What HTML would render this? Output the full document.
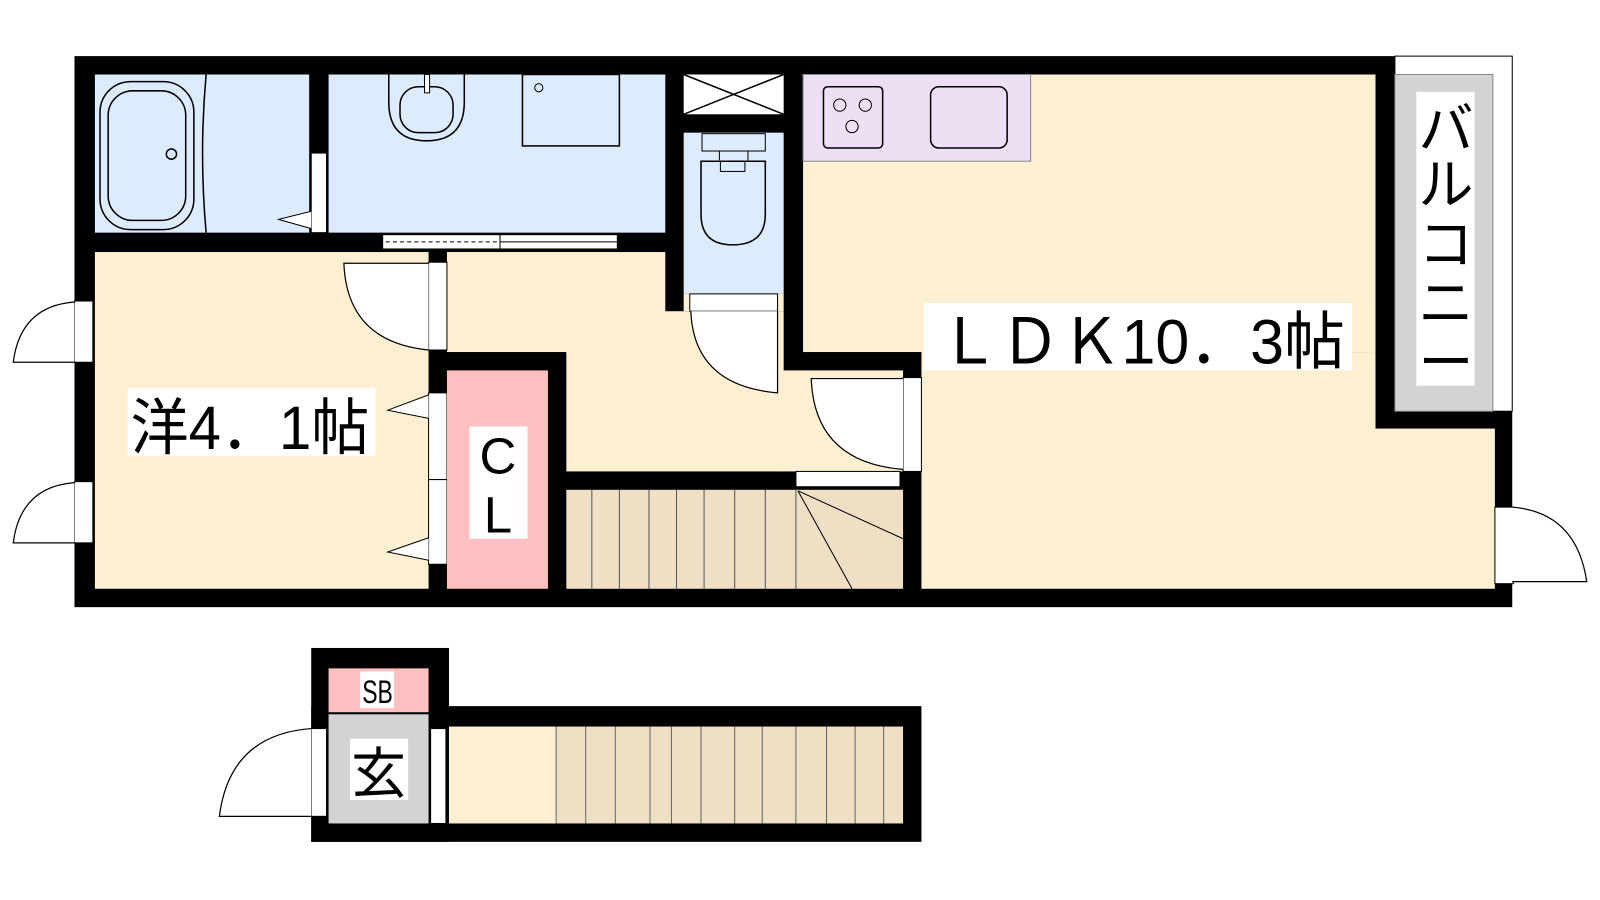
<!DOCTYPE html>
<html><head><meta charset="utf-8"><style>
html,body{margin:0;padding:0;background:#fff;width:1600px;height:900px;overflow:hidden}
svg{display:block}
text{font-family:"Liberation Sans","Noto Sans CJK JP",sans-serif;fill:#000}
</style></head><body>
<svg width="1600" height="900" viewBox="0 0 1568 882" xmlns="http://www.w3.org/2000/svg">
<rect x="73" y="55" width="1409" height="540" fill="#000"/>
<rect x="1367" y="55" width="115" height="348" fill="#fff" stroke="#000" stroke-width="1"/>
<rect x="1367" y="73" width="96" height="330" fill="#d3d3d3" stroke="#888" stroke-width="1"/>
<rect x="1388" y="90" width="57" height="288" fill="#fff"/>
<!-- bath -->
<rect x="93" y="73" width="210" height="155" fill="#dcebfd"/>
<rect x="98" y="80" width="92" height="145" rx="30" fill="none" stroke="#000" stroke-width="1.5"/>
<rect x="106" y="89" width="76" height="127" rx="24" fill="none" stroke="#000" stroke-width="1.5"/>
<circle cx="168" cy="151" r="5" fill="none" stroke="#000" stroke-width="1.5"/>
<path d="M202 73 Q195 150 202 228" fill="none" stroke="#000" stroke-width="1.5"/>
<rect x="305" y="150" width="15" height="78" fill="#fff" stroke="#000"/>
<path d="M305 207 L273 215 L305 224" fill="#fff" stroke="#000"/>
<!-- washroom -->
<rect x="322" y="73" width="330" height="155" fill="#dcebfd"/>
<path d="M381 73 V100 Q381 138 418 138 Q455 138 455 100 V73" fill="none" stroke="#000" stroke-width="1.5"/>
<rect x="392" y="85" width="52" height="45" rx="18" fill="none" stroke="#000" stroke-width="1.5"/>
<rect x="416" y="73" width="5" height="18" fill="#fff" stroke="#000"/>
<rect x="512" y="73" width="95" height="70" fill="none" stroke="#000" stroke-width="1.5"/>
<circle cx="528" cy="86" r="4" fill="none" stroke="#000"/>
<rect x="375" y="230" width="115" height="14" fill="#fff" stroke="#000"/>
<line x1="378" y1="237" x2="488" y2="237" stroke="#000" stroke-dasharray="4,3"/>
<rect x="490" y="230" width="115" height="14" fill="#fff" stroke="#000"/>
<line x1="490" y1="237" x2="605" y2="237" stroke="#000"/>
<!-- X box -->
<rect x="670" y="73" width="98" height="39" fill="#fff"/>
<path d="M670 73 L768 112 M768 73 L670 112" stroke="#000" stroke-width="1.5"/>
<!-- toilet -->
<rect x="670" y="130" width="98" height="158" fill="#dcebfd"/>
<rect x="688" y="131" width="62" height="17" fill="none" stroke="#000"/>
<path d="M705 148 v9 M733 148 v9" stroke="#000"/>
<path d="M687 158 H750 V210 Q750 240 718 240 Q687 240 687 210 Z" fill="none" stroke="#000" stroke-width="1.5"/>
<rect x="706" y="158" width="24" height="10" fill="none" stroke="#000"/>
<!-- kitchen + LDK -->
<rect x="787" y="73" width="561" height="272" fill="#fdf0d2"/>
<rect x="903" y="345" width="445" height="232" fill="#fdf0d2"/>
<rect x="1348" y="420" width="117" height="157" fill="#fdf0d2"/>
<rect x="787" y="73" width="223" height="85" fill="#ede0f5" stroke="#888"/>
<rect x="807" y="85" width="58" height="60" rx="4" fill="none" stroke="#000" stroke-width="1.5"/>
<circle cx="823" cy="103" r="6" fill="none" stroke="#000"/><circle cx="848" cy="103" r="6" fill="none" stroke="#000"/><circle cx="835" cy="124" r="6" fill="none" stroke="#000"/>
<rect x="912" y="85" width="75" height="60" rx="8" fill="none" stroke="#000" stroke-width="1.5"/>
<!-- western room -->
<rect x="93" y="247" width="327" height="330" fill="#fdf0d2"/>
<!-- hallway -->
<rect x="438" y="247" width="214" height="98" fill="#fdf0d2"/>
<rect x="555" y="305" width="213" height="157" fill="#fdf0d2"/>
<rect x="767" y="363" width="118" height="99" fill="#fdf0d2"/>
<rect x="670" y="288" width="98" height="17" fill="#fdf0d2"/>
<!-- doors -->
<rect x="420" y="257" width="18" height="86" fill="#fff" stroke="#000"/>
<path d="M420 258 H337 Q340 335 420 343" fill="#fff" stroke="#000" stroke-width="1.2"/>
<rect x="676" y="288" width="86" height="17" fill="#fff" stroke="#000"/>
<path d="M677 305 Q680 378 762 385 V305" fill="#fff" stroke="#000" stroke-width="1.2"/>
<rect x="885" y="370" width="18" height="92" fill="#fff" stroke="#000"/>
<path d="M885 371 H795 Q798 453 885 460" fill="#fff" stroke="#000" stroke-width="1.2"/>
<rect x="420" y="385" width="18" height="85" fill="#fff" stroke="#000"/>
<rect x="420" y="470" width="18" height="83" fill="#fff" stroke="#000"/>
<path d="M420 387 L380 402 L420 410" fill="#fff" stroke="#000"/>
<path d="M420 527 L380 541 L420 549" fill="#fff" stroke="#000"/>
<!-- CL -->
<rect x="438" y="363" width="99" height="214" fill="#fdbfbf"/>
<rect x="460" y="418" width="57" height="110" fill="#fff"/>
<text x="488" y="464" font-size="50" text-anchor="middle">C</text>
<text x="488" y="522" font-size="50" text-anchor="middle">L</text>
<!-- stairs -->
<rect x="555" y="480" width="330" height="97" fill="#eedfc5"/>
<g stroke="#555" stroke-width="1">
<line x1="580" y1="480" x2="580" y2="577"/><line x1="607" y1="480" x2="607" y2="577"/><line x1="636" y1="480" x2="636" y2="577"/><line x1="663" y1="480" x2="663" y2="577"/><line x1="690" y1="480" x2="690" y2="577"/><line x1="720" y1="480" x2="720" y2="577"/><line x1="750" y1="480" x2="750" y2="577"/><line x1="780" y1="480" x2="780" y2="577"/>
</g>
<path d="M782 481 L835 577 M782 481 L885 528" stroke="#000"/>
<rect x="780" y="462" width="102" height="15" fill="#fff" stroke="#000"/>
<!-- outside doors -->
<rect x="73" y="295" width="18" height="60" fill="#fff" stroke="#000"/>
<path d="M73 296 Q20 300 13 355 H73" fill="#fff" stroke="#000" stroke-width="1.2"/>
<rect x="73" y="472" width="18" height="60" fill="#fff" stroke="#000"/>
<path d="M73 473 Q20 477 13 532 H73" fill="#fff" stroke="#000" stroke-width="1.2"/>
<rect x="1465" y="497" width="18" height="75" fill="#fff" stroke="#000"/>
<path d="M1482 497 Q1545 502 1555 570 H1482" fill="#fff" stroke="#000" stroke-width="1.2"/>
<!-- labels -->
<rect x="125" y="380" width="243" height="67" fill="#fff"/>
<text x="128" y="440" font-size="60" textLength="234" lengthAdjust="spacingAndGlyphs">洋4．1帖</text>
<rect x="905" y="297" width="420" height="66" fill="#fff"/>
<text x="920" y="356" font-size="62" textLength="398" lengthAdjust="spacingAndGlyphs">ＬＤＫ10．3帖</text>
<text font-size="54" x="1417" y="145" text-anchor="middle">バ</text>
<text font-size="54" x="1417" y="200" text-anchor="middle">ル</text>
<text font-size="54" x="1417" y="258" text-anchor="middle">コ</text>
<text font-size="54" x="1417" y="316" text-anchor="middle">ニ</text>
<text font-size="54" x="1417" y="374" text-anchor="middle">ー</text>
<!-- bottom entry -->
<rect x="305" y="635" width="135" height="190" fill="#000"/>
<rect x="305" y="692" width="598" height="133" fill="#000"/>
<rect x="322" y="655" width="98" height="43" fill="#fdbfbf"/>
<rect x="353" y="658" width="33" height="36" fill="#fff"/>
<text x="355" y="689" font-size="32" textLength="30" lengthAdjust="spacingAndGlyphs">SB</text>
<rect x="322" y="700" width="98" height="107" fill="#d3d3d3"/>
<rect x="343" y="724" width="57" height="60" fill="#fff"/>
<text x="371" y="777" font-size="54" text-anchor="middle">玄</text>
<rect x="305" y="714" width="15" height="86" fill="#fff" stroke="#000"/>
<path d="M305 714 Q225 720 215 800 H305" fill="#fff" stroke="#000" stroke-width="1.2"/>
<rect x="422" y="714" width="15" height="93" fill="#fff" stroke="#000"/>
<rect x="440" y="712" width="105" height="95" fill="#fdf0d2"/>
<rect x="545" y="712" width="340" height="95" fill="#eedfc5"/>
<g stroke="#666" stroke-width="1">
<line x1="545" y1="712" x2="545" y2="807"/><line x1="574" y1="712" x2="574" y2="807"/><line x1="603" y1="712" x2="603" y2="807"/><line x1="637" y1="712" x2="637" y2="807"/><line x1="658" y1="712" x2="658" y2="807"/><line x1="687" y1="712" x2="687" y2="807"/><line x1="720" y1="712" x2="720" y2="807"/><line x1="747" y1="712" x2="747" y2="807"/><line x1="780" y1="712" x2="780" y2="807"/><line x1="810" y1="712" x2="810" y2="807"/><line x1="838" y1="712" x2="838" y2="807"/><line x1="866" y1="712" x2="866" y2="807"/>
</g>
</svg>
</body></html>
